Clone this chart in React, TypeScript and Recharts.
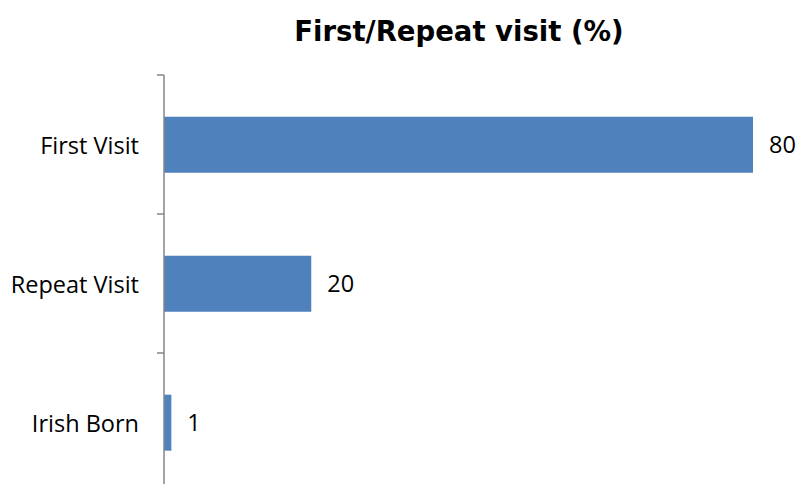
import React from "react";
import { BarChart, Bar, XAxis, YAxis, LabelList } from "recharts";

const categories = ["First Visit", "Repeat Visit", "Irish Born"];
const share = [80, 20, 1];

const data = categories.map((name, i) => ({ name, value: share[i] }));

const LABEL_FONT = "'Open Sans', sans-serif";
const AXIS_GAP = 25;

// category label plus a tick mark on the band's upper edge
const CategoryTick = (props: any) => {
  const { x, y, payload } = props;
  const half = payload && payload.offset ? payload.offset : 69.5;
  const axisX = x + AXIS_GAP;
  return (
    <g>
      <line x1={axisX - 7} x2={axisX} y1={y - half} y2={y - half} stroke="#868686" strokeWidth={1.5} />
      <text x={x} y={y} textAnchor="end" dominantBaseline="central" fontFamily={LABEL_FONT} fontSize={23.5} fill="#000">
        {payload.value}
      </text>
    </g>
  );
};

export default function App() {
  return (
    <div style={{ position: "absolute", left: 0, top: 0, width: 797, height: 484, overflow: "hidden", background: "#fff" }}>
      <div
        style={{
          position: "absolute",
          left: 459,
          top: 13,
          transform: "translateX(-50%)",
          whiteSpace: "nowrap",
          fontFamily: "'DejaVu Sans', sans-serif",
          fontWeight: "bold",
          fontSize: 27.5,
          lineHeight: "36px",
        }}
      >
        First/Repeat visit (%)
      </div>
      <BarChart
        width={797}
        height={500}
        data={data}
        layout="vertical"
        barCategoryGap="30%"
        margin={{ top: 75, right: 44, bottom: 8, left: 0 }}
      >
        <XAxis type="number" domain={[0, 80]} hide />
        <YAxis
          type="category"
          dataKey="name"
          width={164}
          tickLine={false}
          tickSize={0}
          tickMargin={AXIS_GAP}
          axisLine={{ stroke: "#868686", strokeWidth: 1.5 }}
          tick={<CategoryTick />}
          interval={0}
        />
        <Bar dataKey="value" fill="#4F81BD" isAnimationActive={false}>
          <LabelList dataKey="value" position="right" offset={16} fontFamily={LABEL_FONT} fontSize={23.5} fill="#000" />
        </Bar>
      </BarChart>
    </div>
  );
}
